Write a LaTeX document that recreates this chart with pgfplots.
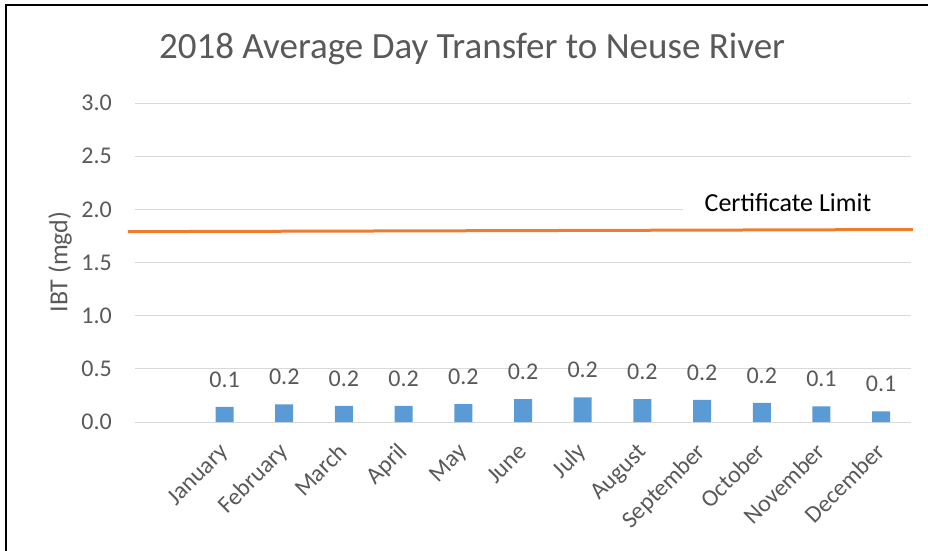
\documentclass[border=0pt]{standalone}
\usepackage{fontspec}
\setmainfont{Carlito}
\usepackage{pgfplots}
\pgfplotsset{compat=1.18}
\definecolor{barblue}{HTML}{5B9BD5}
\definecolor{limitorange}{HTML}{ED7D31}
\definecolor{gridgray}{HTML}{D9D9D9}
\definecolor{txtgray}{HTML}{595959}

\begin{document}
\begin{tikzpicture}
% page = 928 x 550 px, 1px = 0.75pt, origin at lower left of plot area
\path[use as bounding box] (-101.25pt,-96pt) rectangle (594.75pt,316.5pt);
\clip (-101.25pt,-96pt) rectangle (594.75pt,316.5pt);
\begin{axis}[
  scale only axis,
  width=582pt, height=239.25pt,
  xmin=-0.5, xmax=12.5,
  ymin=0, ymax=3,
  enlargelimits=false,
  clip=false,
  axis line style={draw=none},
  tick style={draw=none},
  ymajorgrids,
  grid style={color=gridgray, line width=0.75pt},
  ytick={0,0.5,1,1.5,2,2.5,3},
  xtick={1,...,12},
  xticklabels={January,February,March,April,May,June,July,August,September,October,November,December},
  /pgf/number format/.cd, fixed, fixed zerofill, precision=1, assume math mode=true,
  /pgfplots/.cd,
  yticklabel style={font=\fontsize{18}{20}\selectfont, text=txtgray, anchor=east, inner sep=0pt, xshift=-17.25pt},
  xticklabel style={xshift=3.75pt, yshift=-23.25pt, rotate=45, anchor=base east, inner sep=0pt,
    font=\fontsize{18}{20}\selectfont, text=txtgray},
]
\addplot[ybar, bar width=13.5pt, fill=barblue, draw=none,
  nodes near coords, point meta=y,
  every node near coord/.append style={font=\fontsize{18}{20}\selectfont, text=txtgray,
    anchor=south, inner sep=0pt, yshift=14.25pt}]
  coordinates {
  (1,0.142) (2,0.166) (3,0.152) (4,0.152) (5,0.169) (6,0.216)
  (7,0.232) (8,0.216) (9,0.207) (10,0.180) (11,0.147) (12,0.100)
};
\addplot[limitorange, line width=2.25pt, sharp plot, no markers]
  coordinates {(-0.62,1.79) (12.53,1.81)};
\fill[white] (axis cs:8.68,1.93) rectangle (axis cs:12.6,2.08);
\node[anchor=base, font=\fontsize{19.5}{22}\selectfont, text=black]
  at (axis cs:10.44,1.975) {Certificate Limit};
\end{axis}
\draw[line width=1.5pt] (-96.4pt,-150pt) -- (-96.4pt,312.5pt) -- (675pt,312.5pt);
\node[anchor=base, font=\fontsize{27.75}{32}\selectfont, text=txtgray, inner sep=0pt]
  at (252.75pt,272.25pt) {2018 Average Day Transfer to Neuse River};
\node[rotate=90, font=\fontsize{19.5}{22}\selectfont, text=txtgray, inner sep=0pt]
  at (-56.25pt,120pt) {IBT (mgd)};
\end{tikzpicture}
\end{document}
